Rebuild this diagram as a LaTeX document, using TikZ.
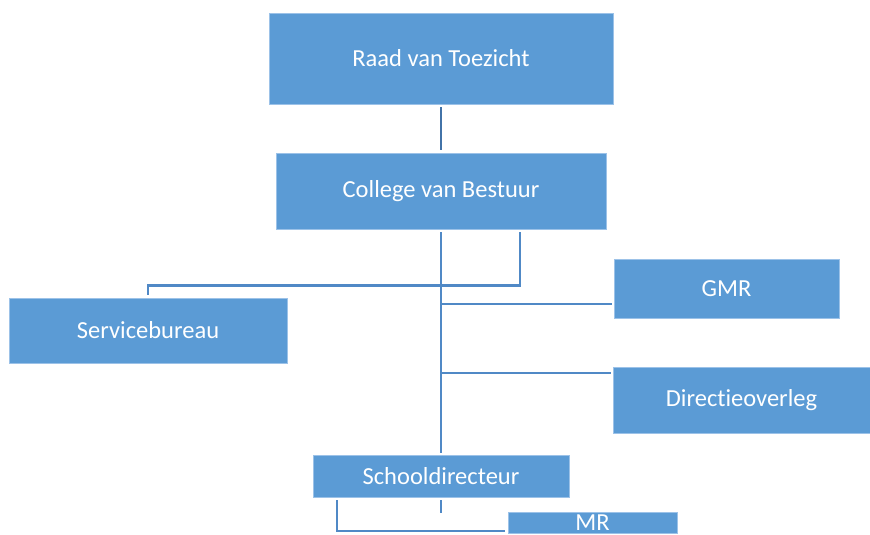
\documentclass[tikz,border=0pt]{standalone}
\usepackage{fontspec}
\setmainfont{Carlito}[Ligatures=NoCommon]
\definecolor{boxblue}{HTML}{5B9BD5}
\definecolor{boxedge}{HTML}{9CC2E8}
\definecolor{linkblue}{HTML}{5089C6}
\definecolor{toplink}{HTML}{4273A8}
\begin{document}
\begin{tikzpicture}[x=1pt,y=-1pt,
  orgbox/.style={rectangle,fill=boxblue,draw=boxedge,line width=0.7pt,inner sep=0pt,
    text=white,font=\fontsize{24.5}{28}\selectfont},
  link/.style={draw=linkblue,line width=2.6pt}]
\useasboundingbox (0,0) rectangle (870,535);
\begin{scope}
\clip (0,0) rectangle (870,535);
\node[orgbox,minimum width=344pt,minimum height=91pt] (raad) at (441,58.5) {Raad van Toezicht};
\node[orgbox,minimum width=330pt,minimum height=76pt] (college) at (441,191) {College van Bestuur};
\node[orgbox,minimum width=278pt,minimum height=65pt] (service) at (148,330.5) {Servicebureau};
\node[orgbox,minimum width=225pt,minimum height=59pt] (gmr) at (726.5,288.5) {GMR};
\node[orgbox,minimum width=257pt,minimum height=66pt] (dir) at (741.5,400) {Directieoverleg};
\node[orgbox,minimum width=256pt,minimum height=42pt] (school) at (441,476) {Schooldirecteur};
\node[orgbox,minimum width=169pt,minimum height=21.5pt] (mr) at (592.5,523) {MR};
% connectors
\draw[link,draw=toplink,shorten <=3pt,shorten >=3pt] (raad.south) -- (college.north);
\draw[link,shorten <=3pt,shorten >=2pt] (college.south) -- (school.north);
\coordinate (cbr) at ([xshift=79pt,yshift=-3pt]college.south);
\coordinate (sbtop) at ([yshift=3pt]service.north);
\draw[link] (cbr) |- ([yshift=12pt]service.north) -- (sbtop);
\coordinate (g) at ([yshift=-15.5pt,xshift=-2pt]gmr.west);
\draw[link] (g -| college.south) -- (g);
\coordinate (d) at ([yshift=27pt,xshift=-2pt]dir.west);
\draw[link] (d -| college.south) -- (d);
\coordinate (sdb) at ([yshift=-3pt]school.south);
\draw[link] (sdb) -- ++(0,13);
\coordinate (sdl) at ([xshift=-104pt,yshift=-3pt]school.south);
\coordinate (mrw) at ([xshift=-3pt,yshift=-8pt]mr.west);
\draw[link] (sdl) |- (mrw);
\end{scope}
\end{tikzpicture}
\end{document}
